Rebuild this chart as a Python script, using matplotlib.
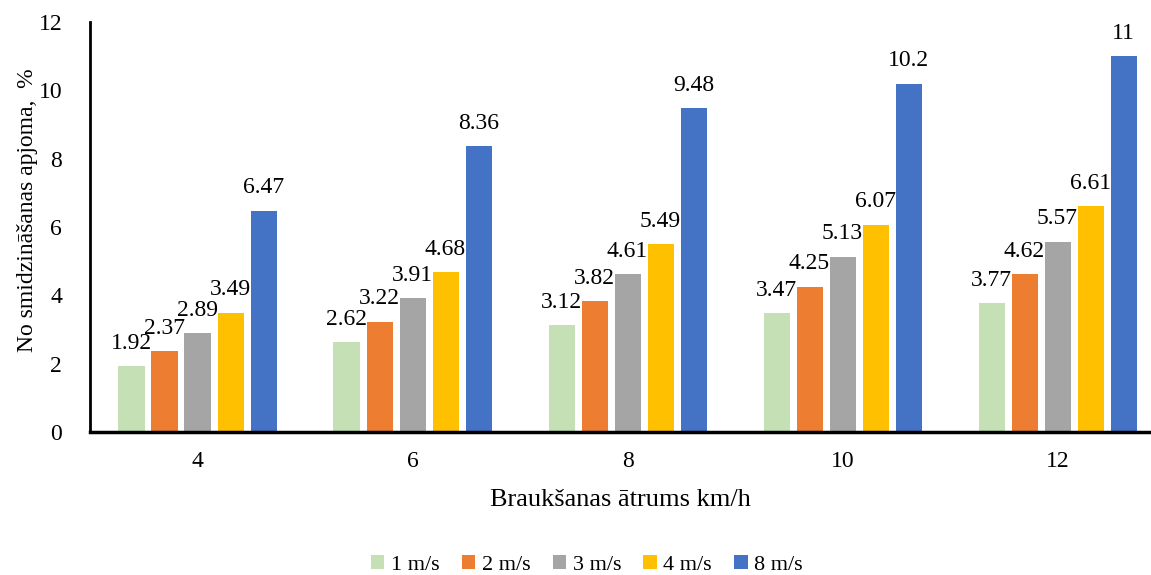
import numpy as np
import matplotlib
matplotlib.use('Agg')
from matplotlib import pyplot as plt

plt.rcParams['font.family'] = ['Liberation Serif', 'DejaVu Serif']

speeds = ['4', '6', '8', '10', '12']
series = ['1 m/s', '2 m/s', '3 m/s', '4 m/s', '8 m/s']
v1 = [1.92, 2.62, 3.12, 3.47, 3.77]
v2 = [2.37, 3.22, 3.82, 4.25, 4.62]
v3 = [2.89, 3.91, 4.61, 5.13, 5.57]
v4 = [3.49, 4.68, 5.49, 6.07, 6.61]
v8 = [6.47, 8.36, 9.48, 10.2, 11]
colors = ['#c5e0b4', '#ed7d31', '#a5a5a5', '#ffc000', '#4472c4']

W, H = 1151, 575
fig = plt.figure(figsize=(W / 100, H / 100), dpi=100)
ax = fig.add_axes([90 / W, 1 - 432 / H, (1150 - 90) / W, (432 - 22) / H])

x = np.arange(len(speeds))
step = 0.1535
width = 0.121
for i, (name, vals) in enumerate(zip(series, [v1, v2, v3, v4, v8])):
    pos = x + (i - 2) * step
    ax.bar(pos, vals, width, color=colors[i], label=name)
    for p, v in zip(pos, vals):
        ax.annotate(f'{v:g}', (p, v), xytext=(0, 9), textcoords='offset points',
                    ha='center', va='bottom', fontsize=17)

ax.set_xlim(-0.5, 4.43)
ax.set_ylim(0, 12)
ax.set_yticks(range(0, 13, 2))
ax.set_xticks(x)
ax.set_xticklabels(speeds)
ax.tick_params(length=0, labelsize=17, pad=14)
ax.tick_params(axis='y', pad=20)
for s in ['top', 'right']:
    ax.spines[s].set_visible(False)
ax.spines['left'].set_linewidth(2)
ax.spines['bottom'].set_linewidth(2.5)

ax.set_xlabel('Braukšanas ātrums km/h', fontsize=19, labelpad=12)
fig.text(28 / W, 1 - 210 / H, 'No smidzināšanas apjoma,  %', fontsize=17,
         rotation=90, ha='center', va='center')

fig.legend(loc='center', ncol=5, frameon=False, fontsize=16,
           bbox_to_anchor=(0.51, 0.017), handlelength=0.6, handleheight=0.6,
           handletextpad=0.3, columnspacing=1.0)

fig.savefig('out.png', dpi=100)
